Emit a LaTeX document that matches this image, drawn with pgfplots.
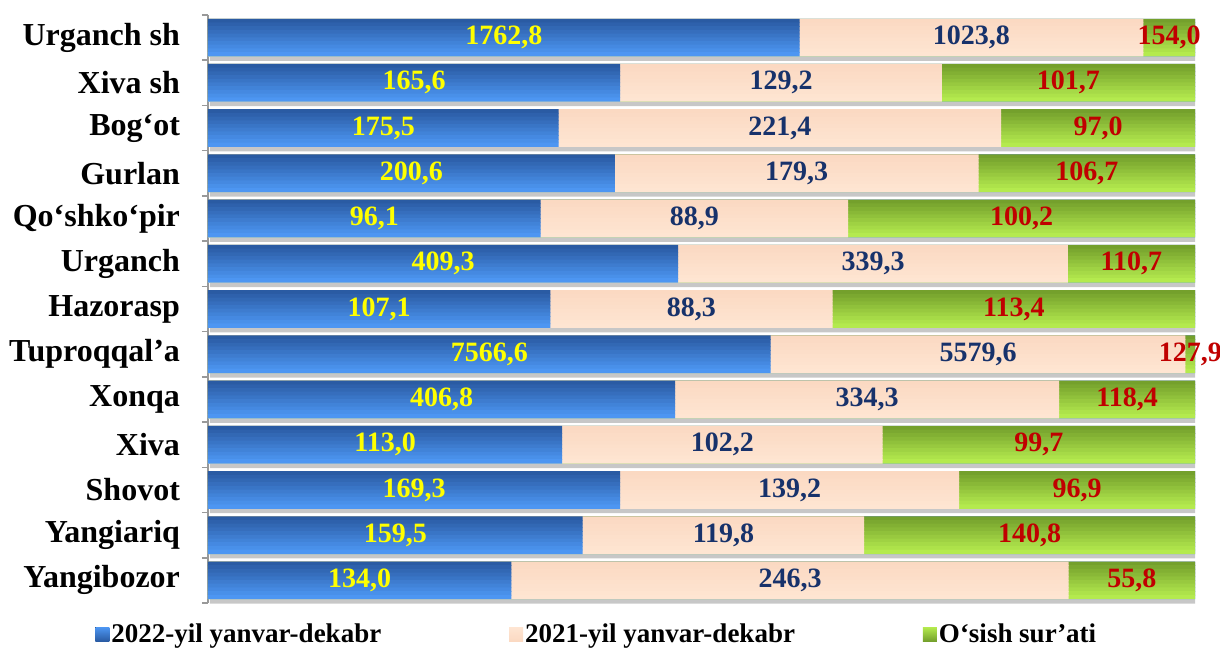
\documentclass[border=0pt]{standalone}
\usepackage{fontspec}
\setmainfont{Liberation Serif}
\usepackage{pgfplots}
\pgfplotsset{compat=1.18}
\usepackage{pgfplotstable}

\definecolor{bluetop}{HTML}{4D96F2}
\definecolor{bluebot}{HTML}{2A5BA3}
\definecolor{peachtop}{HTML}{FEE5D2}
\definecolor{peachbot}{HTML}{FBD9C2}
\definecolor{greentop}{HTML}{B4EA4E}
\definecolor{greenbot}{HTML}{74A02C}
\definecolor{navy}{HTML}{17326B}
\definecolor{darkred}{HTML}{C00000}
\definecolor{lblyellow}{HTML}{FFFF00}

% a = 2022, b = 2021, c = o'sish sur'ati
\pgfplotstableread{
idx a b c
0 1762.8 1023.8 154.0
1 165.6 129.2 101.7
2 175.5 221.4 97.0
3 200.6 179.3 106.7
4 96.1 88.9 100.2
5 409.3 339.3 110.7
6 107.1 88.3 113.4
7 7566.6 5579.6 127.9
8 406.8 334.3 118.4
9 113.0 102.2 99.7
10 169.3 139.2 96.9
11 159.5 119.8 140.8
12 134.0 246.3 55.8
}\data

\pgfplotsset{
  base/.style={width=493.5pt, height=294pt, scale only axis,
    xmin=0, xmax=100, ymin=-0.5, ymax=12.5, y dir=reverse},
  lbl/.style={only marks, mark=none,
    every node near coord/.append style={text=#1}},
}
% cumulative shares (percent of row total)
\def\cumA{\thisrow{a}/(\thisrow{a}+\thisrow{b}+\thisrow{c})*100}
\def\cumB{(\thisrow{a}+\thisrow{b})/(\thisrow{a}+\thisrow{b}+\thisrow{c})*100}
\def\cumC{(\thisrow{a}+\thisrow{b}+\thisrow{c})/(\thisrow{a}+\thisrow{b}+\thisrow{c})*100}

\begin{document}
\begin{tikzpicture}
\begin{axis}[base, name=ax,
  xbar, bar width=2.2pt,
  axis x line=none, axis y line*=left,
  ytick={0,...,12},
  yticklabels={Urganch sh, Xiva sh, {Bog‘ot}, Gurlan, {Qo‘shko‘pir}, Urganch, Hazorasp,
    {Tuproqqal’a}, Xonqa, Xiva, Shovot, Yangiariq, Yangibozor},
  major tick length=0pt,
  minor ytick={-0.5,0.5,...,12.5},
  minor tick length=3pt, tick align=outside,
  y axis line style={gray!80, line width=0.8pt},
  minor tick style={gray!80, line width=0.8pt},
  yticklabel style={font=\bfseries\fontsize{16}{18}\selectfont, text=black, xshift=-10.5pt},
  legend columns=3,
  legend style={at={(0.394,-0.053)}, anchor=center, draw=none, fill=none,
    font=\bfseries\fontsize{13.5}{16}\selectfont,
    nodes={inner sep=1pt},
    /tikz/every odd column/.append style={column sep=0pt},
    /tikz/every even column/.append style={column sep=63pt}},
  legend image code/.code={\fill[#1] (0pt,-3.5pt) rectangle (7pt,3.5pt);},
]
% drop shadow under each full row
\addplot[forget plot, draw=none, fill=black, opacity=0.22, bar width=18.5pt,
  bar shift=-2.4pt, transform canvas={xshift=1pt}]
  table[x expr={\cumC}, y=idx] {\data};
% each layer drawn as horizontal strips giving a top-to-bottom gradient
\pgfplotsinvokeforeach{0,...,9}{
  \addplot[forget plot, draw=none, fill=bluebot!\the\numexpr 100-#1*100/9\relax!bluetop,
    bar shift={(4.5-#1)*1.85pt}]
    table[x expr={\cumC}, y=idx] {\data};
}
\pgfplotsinvokeforeach{0,...,9}{
  \addplot[forget plot, draw=none, fill=greenbot!\the\numexpr 100-#1*100/9\relax!greentop,
    bar shift={(4.5-#1)*1.85pt}]
    table[x expr={\cumC}, y=idx] {\data};
}
\pgfplotsinvokeforeach{0,...,9}{
  \addplot[forget plot, draw=none, fill=peachbot!\the\numexpr 100-#1*100/9\relax!peachtop,
    bar shift={(4.5-#1)*1.85pt}]
    table[x expr={\cumB}, y=idx] {\data};
}
\pgfplotsinvokeforeach{0,...,9}{
  \addplot[forget plot, draw=none, fill=bluebot!\the\numexpr 100-#1*100/9\relax!bluetop,
    bar shift={(4.5-#1)*1.85pt}]
    table[x expr={\cumA}, y=idx] {\data};
}
\addlegendimage{top color=bluetop, bottom color=bluebot, draw=none}
\addlegendimage{top color=peachtop, bottom color=peachbot, draw=none}
\addlegendimage{top color=greentop, bottom color=greenbot, draw=none}
\legend{2022-yil yanvar-dekabr, 2021-yil yanvar-dekabr, O‘sish sur’ati}
\end{axis}

% value labels, centred in each segment
\begin{axis}[base, hide axis, clip=false,
  nodes near coords, point meta=explicit, nodes near coords align=center,
  every node near coord/.append style={anchor=center, inner sep=0pt,
    font=\bfseries\fontsize{14}{16}\selectfont},
  /pgf/number format/.cd, fixed, fixed zerofill, precision=1, use comma, 1000 sep={},
  assume math mode=true,
]
\addplot[lbl=lblyellow]
  table[x expr={\thisrow{a}/(\thisrow{a}+\thisrow{b}+\thisrow{c})*50}, y=idx, meta=a] {\data};
\addplot[lbl=navy]
  table[x expr={(\thisrow{a}+0.5*\thisrow{b})/(\thisrow{a}+\thisrow{b}+\thisrow{c})*100}, y=idx, meta=b] {\data};
\addplot[lbl=darkred]
  table[x expr={(\thisrow{a}+\thisrow{b}+0.5*\thisrow{c})/(\thisrow{a}+\thisrow{b}+\thisrow{c})*100}, y=idx, meta=c] {\data};
\end{axis}

\pgfresetboundingbox
\path[use as bounding box] ([shift={(-104pt,-22.5pt)}]ax.south west)
  rectangle ([shift={(12.5pt,7.5pt)}]ax.north east);
\end{tikzpicture}
\end{document}
